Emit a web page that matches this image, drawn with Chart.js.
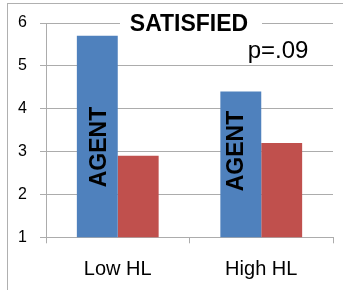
<!DOCTYPE html>
<html>
<head>
<meta charset="utf-8">
<script src="https://cdn.jsdelivr.net/npm/chart.js@4/dist/chart.umd.min.js"></script>
<style>
html,body{margin:0;padding:0;background:#fff;}
canvas{display:block;}
</style>
</head>
<body>
<canvas id="c" width="343" height="290"></canvas>
<script>
const categories = ["Low HL", "High HL"];
const agentValues = [5.7, 4.4];
const otherValues = [2.9, 3.2];
const yTicks = [1, 2, 3, 4, 5, 6];
const titleText = "SATISFIED";
const pText = "p=.09";
const barText = "AGENT";

const GRID = "#acacac";

const decor = {
  id: "decor",
  beforeDraw(chart) {
    const ctx = chart.ctx;
    ctx.save();
    ctx.strokeStyle = "#b0b0b0";
    ctx.lineWidth = 1;
    ctx.beginPath();
    ctx.moveTo(7.5, 3);
    ctx.lineTo(7.5, 290);
    ctx.moveTo(7, 3.5);
    ctx.lineTo(343, 3.5);
    ctx.stroke();
    ctx.restore();
  },
  afterDraw(chart) {
    const ctx = chart.ctx;
    ctx.save();
    // title with white box
    ctx.fillStyle = "#fff";
    ctx.fillRect(120, 12, 142, 24);
    ctx.fillStyle = "#000";
    ctx.font = "bold 23px 'Liberation Sans', Arial, sans-serif";
    ctx.textAlign = "center";
    ctx.textBaseline = "middle";
    ctx.fillText(titleText, 189, 25);
    ctx.font = "24px 'Liberation Sans', Arial, sans-serif";
    ctx.fillText(pText, 278, 51);
    // AGENT labels in blue bars
    const meta = chart.getDatasetMeta(0);
    const dx = [8.5, 2.5];
    const cy = [147, 151];
    ctx.font = "bold 23px 'Liberation Sans', Arial, sans-serif";
    ctx.textBaseline = "alphabetic";
    meta.data.forEach((bar, i) => {
      ctx.save();
      ctx.translate(bar.x + dx[i], cy[i]);
      ctx.rotate(-Math.PI / 2);
      ctx.textAlign = "center";
      ctx.fillText(barText, 0, 0);
      ctx.restore();
    });
    ctx.restore();
  }
};

new Chart(document.getElementById("c"), {
  type: "bar",
  data: {
    labels: categories,
    datasets: [
      { data: agentValues, backgroundColor: "#4f81bd", borderWidth: 0 },
      { data: otherValues, backgroundColor: "#c0504d", borderWidth: 0 }
    ]
  },
  options: {
    responsive: false,
    animation: false,
    devicePixelRatio: 1,
    layout: { padding: { top: 23, right: 10, left: 0, bottom: 0 } },
    plugins: { legend: { display: false }, tooltip: { enabled: false } },
    datasets: { bar: { barPercentage: 1, categoryPercentage: 0.57 } },
    scales: {
      x: {
        grid: { offset: true, drawOnChartArea: false, drawTicks: true, tickLength: 6, color: GRID },
        border: { display: true, color: GRID },
        ticks: { color: "#000", padding: 14, font: { family: "'Liberation Sans', Arial, sans-serif", size: 20 } },
        afterFit(s) { s.height = 52.7; }
      },
      y: {
        min: 1, max: 6,
        afterBuildTicks(s) { s.ticks = yTicks.map(v => ({ value: v })); },
        grid: { color: GRID, tickLength: 6, drawTicks: true },
        border: { display: true, color: GRID },
        ticks: { color: "#000", padding: 13, font: { family: "'Liberation Sans', Arial, sans-serif", size: 16 } },
        afterFit(s) { s.width = 46; }
      }
    }
  },
  plugins: [decor]
});
</script>
</body>
</html>
